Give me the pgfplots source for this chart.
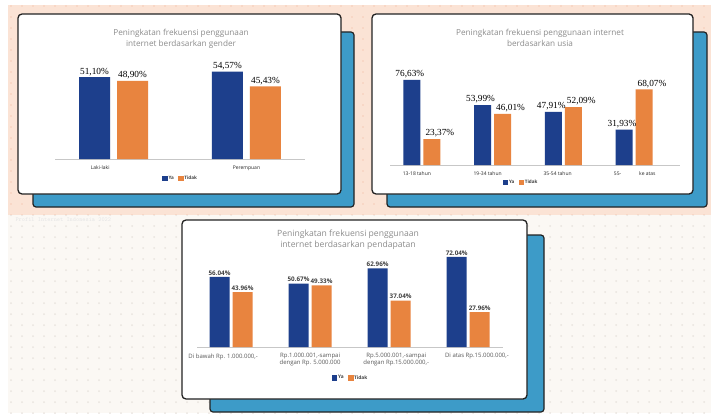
\documentclass[border=0pt]{standalone}
\usepackage{pgfplots}
\pgfplotsset{compat=1.18}
\usepackage{fontspec}
\setmainfont{Open Sans}
\newfontfamily\valfont{Liberation Serif}
\usetikzlibrary{patterns.meta}

\definecolor{ya}{HTML}{1D3F8C}
\definecolor{tidak}{HTML}{E8843F}
\definecolor{shadowblue}{HTML}{3D9BC8}
\definecolor{peach}{HTML}{FBE3D5}
\definecolor{peachdot}{HTML}{F5CCB8}
\definecolor{cream}{HTML}{FBF8F4}
\definecolor{creamdot}{HTML}{E9E4DF}
\definecolor{titlegray}{HTML}{8C8C8C}
\definecolor{cardline}{HTML}{222222}

\pgfplotsset{
 panel/.style={
  scale only axis, ybar, ymin=0,
  axis x line*=bottom, axis y line=none,
  axis line style={draw=black!22,-},
  major tick length=0pt,
  ytick=\empty,
  clip=false,
  legend columns=2,
  legend image code/.code={\fill[##1] (0pt,-2.5pt) rectangle (5.5pt,2.7pt);},
  legend style={draw=none, fill=none, font=\bfseries\fontsize{4.6}{5}\selectfont, text=black!75,
    column sep=0pt, inner sep=0pt, nodes={inner sep=0.7pt},
    /tikz/every even column/.append style={column sep=3.5pt}},
  nodes near coords, point meta=explicit symbolic,
 },
}

\begin{document}
\begin{tikzpicture}
\useasboundingbox (0pt,0pt) rectangle (711pt,413pt);
\begin{scope}[x=1pt,y=1pt]
% background
\fill[white] (0,0) rectangle (711,413);
\fill[peach] (8,198) rectangle (711,408);
\fill[pattern={Dots[distance=11pt,radius=0.9pt]}, pattern color=peachdot] (8,198) rectangle (711,408);
\fill[cream] (8,0) rectangle (711,198);
\fill[pattern={Dots[distance=11pt,radius=1pt]}, pattern color=creamdot] (8,0) rectangle (711,198);
\node[anchor=west, font=\ttfamily\fontsize{6}{7}\selectfont, text=black!10] at (12,193) {Profil Internet Indonesia 2022};

% cards
\draw[fill=shadowblue, draw=cardline, line width=1.2pt, rounded corners=3pt] (33,206) rectangle (354,381);
\draw[fill=white, draw=cardline, line width=1.3pt, rounded corners=4pt] (18,219) rectangle (341,399);
\draw[fill=shadowblue, draw=cardline, line width=1.2pt, rounded corners=3pt] (387,206) rectangle (707,381);
\draw[fill=white, draw=cardline, line width=1.3pt, rounded corners=4pt] (372,219) rectangle (693,399);
\draw[fill=shadowblue, draw=cardline, line width=1.2pt, rounded corners=3pt] (210,1) rectangle (544,178);
\draw[fill=white, draw=cardline, line width=1.3pt, rounded corners=4pt] (182,14) rectangle (527,193);

% titles
\node[font=\fontsize{8.2}{11.5}\selectfont, text=titlegray, align=center] at (181,374) {Peningkatan frekuensi penggunaan\\internet berdasarkan gender};
\node[font=\fontsize{8.2}{11}\selectfont, text=titlegray, align=center] at (540,375) {Peningkatan frekuensi penggunaan internet\\berdasarkan usia};
\node[font=\fontsize{8.6}{11}\selectfont, text=titlegray, align=center] at (348,173) {Peningkatan frekuensi penggunaan\\internet berdasarkan pendapatan};
\end{scope}

% panel 1: gender
\begin{axis}[panel, at={(55pt,254pt)}, anchor=south west, width=250pt, height=96pt,
  xmin=-0.44, xmax=1.44, ymax=60,
  xtick={-0.1,1}, xticklabels={Laki-laki,Perempuan},
  xticklabel style={font=\fontsize{5}{6}\selectfont, text=black!85, yshift=-3pt},
  legend style={at={(0.5,-0.2)}, anchor=center},
  every node near coord/.append style={font=\valfont\fontsize{9.3}{10}\selectfont, text=black, inner sep=1.5pt}]
\addplot[fill=ya, draw=none, bar width=31pt, bar shift=-19pt] coordinates {(0,51.10) [{51,10\%}] (1,54.57) [{54,57\%}]};
\addplot[fill=tidak, draw=none, bar width=31pt, bar shift=19pt] coordinates {(0,48.90) [{48,90\%}] (1,45.43) [{45,43\%}]};
\legend{Ya,Tidak}
\end{axis}

% panel 2: usia
\begin{axis}[panel, at={(390pt,248pt)}, anchor=south west, width=290pt, height=100pt,
  xmin=-0.45, xmax=3.65, ymax=90,
  xtick={-0.07,0.93,1.92,3.01},
  xticklabels={13-18 tahun,19-34 tahun,35-54 tahun,{55-\hspace{18pt}ke atas}},
  xticklabel style={font=\fontsize{5}{6}\selectfont, text=black!85, yshift=-3pt},
  legend style={at={(0.45,-0.18)}, anchor=center},
  every node near coord/.append style={font=\valfont\fontsize{9.3}{10}\selectfont, text=black, inner sep=1.5pt}]
\addplot[fill=ya, draw=none, bar width=17pt, bar shift=-10pt,
  every node near coord/.append style={xshift=-2pt}] coordinates {(0,76.63) [{76,63\%}] (1,53.99) [{53,99\%}] (2,47.91) [{47,91\%}] (3,31.93) [{31,93\%}]};
\addplot[fill=tidak, draw=none, bar width=17pt, bar shift=10pt,
  every node near coord/.append style={xshift=8pt}] coordinates {(0,23.37) [{23,37\%}] (1,46.01) [{46,01\%}] (2,52.09) [{52,09\%}] (3,68.07) [{68,07\%}]};
\legend{Ya,Tidak}
\end{axis}

% panel 3: pendapatan
\begin{axis}[panel, at={(197pt,66pt)}, anchor=south west, width=306pt, height=100pt,
  xmin=-0.43, xmax=3.44, ymax=80,
  xtick={-0.1,1,2.09,3.11},
  xticklabels={{Di bawah Rp. 1.000.000,-},{Rp.1.000.001,-sampai\\dengan Rp. 5.000.000},{Rp.5.000.001,-sampai\\dengan Rp.15.000.000,-},{Di atas Rp.15.000.000,-}},
  xticklabel style={font=\fontsize{6}{6.8}\selectfont, text=black!65, align=center, yshift=-3pt},
  legend style={at={(0.5,-0.31)}, anchor=center, font=\bfseries\fontsize{4.8}{5}\selectfont},
  every node near coord/.append style={font=\bfseries\fontsize{6.3}{7}\selectfont, text=black!75, inner sep=1.5pt}]
\addplot[fill=ya, draw=none, bar width=20pt, bar shift=-11.5pt] coordinates {(0,56.04) [56.04\%] (1,50.67) [50.67\%] (2,62.96) [62.96\%] (3,72.04) [72.04\%]};
\addplot[fill=tidak, draw=none, bar width=20pt, bar shift=11.5pt] coordinates {(0,43.96) [43.96\%] (1,49.33) [49.33\%] (2,37.04) [37.04\%] (3,27.96) [27.96\%]};
\legend{Ya,Tidak}
\end{axis}
\end{tikzpicture}
\end{document}
